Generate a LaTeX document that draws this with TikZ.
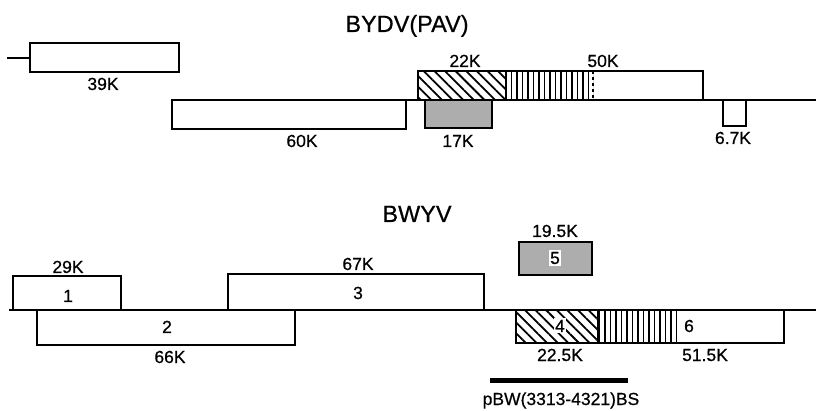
\documentclass[tikz,border=0pt]{standalone}
\usepackage{fontspec}
\setmainfont{Liberation Sans}
\newfontfamily\scanfont[FakeBold=0.6]{Liberation Sans}
\usetikzlibrary{patterns.meta}

\tikzset{
  genome/.style={line width=2pt},
  orf/.style={draw, line width=2.4pt},
  diaghatch/.style={pattern={Lines[angle=-45,distance=7.5pt,line width=1.8pt]}},
  verthatch/.style={pattern={Lines[angle=90,distance=5.5pt,line width=1.5pt]}},
  stipple/.style={fill=black!32},
  lbl/.style={anchor=base, inner sep=0pt, font=\scanfont\fontsize{17.5}{20}\selectfont},
  num/.style={lbl, fill=white, inner sep=1.5pt},
  title/.style={anchor=base, inner sep=0pt, font=\scanfont\fontsize{23.5}{27}\selectfont}
}

\begin{document}
\begin{tikzpicture}[x=1pt, y=-1pt]
                \useasboundingbox (0,0) rectangle (816,411);
                % BYDV(PAV)
                \node[title] (bydv) at (407,32) {BYDV(PAV)};
                \path[draw, genome] (7,58) to (30,58);
                \path[draw, genome] (172,100) to (816,100);
                \path[orf, fill=white] (30,43) rectangle (179,72);
                \path[orf, fill=white] (172,100) rectangle (406,129);
                \path[fill=white] (418,71) rectangle (703,100);
                \path[diaghatch] (418,71) rectangle (506,100);
                \path[verthatch] (506,71) rectangle (593,100);
                \path[draw, line width=1.8pt] (506,71) to (506,100);
                \path[draw, line width=1.6pt, dashed] (593,71) to (593,100);
                \path[orf] (418,71) rectangle (703,100);
                \path[orf, stipple] (425,100) rectangle (492,128);
                \path[orf, fill=white] (723,100) rectangle (746,126);
                \node[lbl] (k39) at (103,90) {39K};
                \node[lbl] (k60) at (302,147) {60K};
                \node[lbl] (k22) at (465,67) {22K};
                \node[lbl] (k50) at (603,67) {50K};
                \node[lbl] (k17) at (458,147) {17K};
                \node[lbl] (k67a) at (733,144) {6.7K};
                % BWYV
                \node[title] (bwyv) at (417,222) {BWYV};
                \path[draw, genome] (9,310) to (816,310);
                \path[orf, fill=white] (13,276) rectangle (121,310);
                \path[orf, fill=white] (37,310) rectangle (295,345);
                \path[orf, fill=white] (228,274) rectangle (484,310);
                \path[orf, stipple] (519,242) rectangle (592,275);
                \path[fill=white] (516,310) rectangle (784,343);
                \path[diaghatch] (516,310) rectangle (598,343);
                \path[verthatch] (598,310) rectangle (680,343);
                \path[draw, line width=1.8pt] (598,310) to (598,343);
                \path[orf] (516,310) rectangle (784,343);
                \node[num] (orf1) at (68,302) {1};
                \node[num] (orf2) at (167,333) {2};
                \node[num] (orf3) at (358,299) {3};
                \node[num] (orf4) at (560,332) {4};
                \node[num] (orf5) at (555,264) {5};
                \node[num] (orf6) at (689,332) {6};
                \node[lbl] (k29) at (68,273) {29K};
                \node[lbl] (k67) at (358,270) {67K};
                \node[lbl] (k66) at (170,363) {66K};
                \node[lbl] (k195) at (555,237) {19.5K};
                \node[lbl] (k225) at (560,361) {22.5K};
                \node[lbl] (k515) at (705,361) {51.5K};
                % probe
                \coordinate (pa) at (490,380.5);
                \coordinate (pb) at (628,380.5);
                \path[draw, line width=5pt] (pa) to (pb);
                \node[lbl] (probe) at (561,405) {pBW(3313-4321)BS};
            \end{tikzpicture}
\end{document}
